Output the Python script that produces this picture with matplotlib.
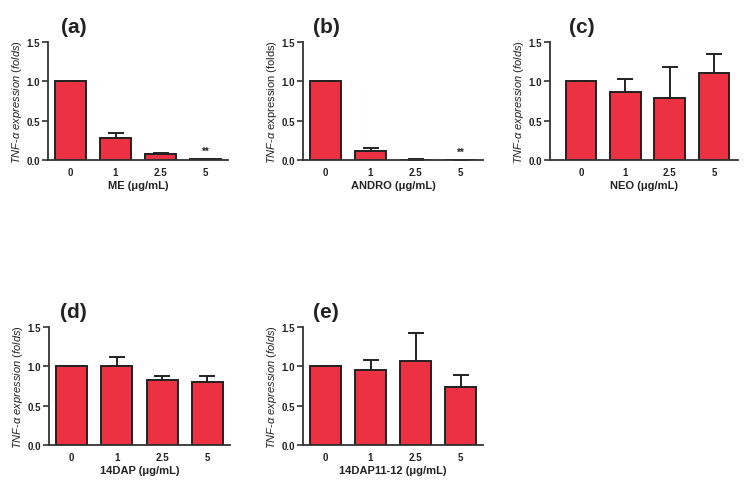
import matplotlib.pyplot as plt

plt.rcParams['font.family'] = ['Liberation Sans', 'DejaVu Sans']
plt.rcParams['mathtext.fontset'] = 'custom'
plt.rcParams['mathtext.rm'] = 'Liberation Sans'
plt.rcParams['mathtext.it'] = 'Liberation Sans:italic'
plt.rcParams['mathtext.bf'] = 'Liberation Sans:bold'

doses = ["0", "1", "2.5", "5"]

me_mean = [1.0, 0.28, 0.075, 0.01]
me_err = [0.0, 0.06, 0.02, 0.005]

andro_mean = [1.0, 0.12, 0.005, 0.004]
andro_err = [0.0, 0.035, 0.004, 0.002]

neo_mean = [1.0, 0.86, 0.79, 1.10]
neo_err = [0.0, 0.17, 0.39, 0.25]

dap_mean = [1.0, 1.0, 0.83, 0.80]
dap_err = [0.0, 0.12, 0.05, 0.08]

dap1112_mean = [1.0, 0.95, 1.07, 0.74]
dap1112_err = [0.0, 0.13, 0.35, 0.15]

bar_color = "#EC3242"

# (tag, x label, means, errors, stars, left, bottom, width, xlim-left, xlim-right, tag x, ylabel italic all)
panels = [
    ("(a)", "ME (μg/mL)", me_mean, me_err, [3], 48, 161, 180, -0.5, 3.5, 0.07, True),
    ("(b)", "ANDRO (μg/mL)", andro_mean, andro_err, [3], 303, 161, 180, -0.5, 3.5, 0.055, False),
    ("(c)", "NEO (μg/mL)", neo_mean, neo_err, [], 550, 161, 188, -0.7, 3.54, 0.1, True),
    ("(d)", "14DAP (μg/mL)", dap_mean, dap_err, [], 49, 446, 181, -0.5, 3.5, 0.06, True),
    ("(e)", "14DAP11-12 (μg/mL)", dap1112_mean, dap1112_err, [], 303, 446, 180, -0.5, 3.5, 0.055, True),
]

W, H = 755, 485
fig = plt.figure(figsize=(7.55, 4.85), dpi=100)

for tag, xlab, mean, err, stars, left, bottom, width, x0, x1, tx, all_italic in panels:
    ax = fig.add_axes([left / W, 1 - bottom / H, width / W, 118 / H])
    x = range(len(doses))
    ax.bar(x, mean, width=0.69, color=bar_color, edgecolor="#222222", linewidth=1.4, zorder=2)
    ax.errorbar(x, mean, yerr=[[0] * len(err), err], fmt="none", ecolor="#222222",
                elinewidth=1.4, capsize=6, capthick=1.4, zorder=1)
    for i in stars:
        ax.text(i, mean[i] + err[i] + 0.04, "**", ha="center", va="bottom",
                fontsize=7, fontweight="bold", color="#222222")

    ax.set_xlim(x0, x1)
    ax.set_ylim(0, 1.5)
    ax.set_yticks([0, 0.5, 1.0, 1.5])
    ax.set_yticklabels(["0.0", "0.5", "1.0", "1.5"])
    ax.set_xticks(list(x))
    ax.set_xticklabels(doses)
    for s in ["top", "right"]:
        ax.spines[s].set_visible(False)
    for s in ["left", "bottom"]:
        ax.spines[s].set_linewidth(1.3)
        ax.spines[s].set_color("#333333")
    ax.tick_params(axis="y", length=4, width=1.2, color="#333333", labelsize=7, pad=2)
    ax.tick_params(axis="x", length=0, labelsize=7, pad=5)
    for lbl in ax.get_xticklabels() + ax.get_yticklabels():
        lbl.set_fontweight("bold")
        lbl.set_color("#222222")

    ax.set_xlabel(xlab, fontsize=8, fontweight="bold", color="#222222", labelpad=2)
    if all_italic:
        ylab = r"$\mathit{TNF}$-$\alpha$ $\mathit{expression\ (folds)}$"
    else:
        ylab = r"$\mathit{TNF}$-$\alpha$ expression (folds)"
    ax.set_ylabel(ylab, fontsize=8, color="#222222", labelpad=1.5)

    ax.text(tx, 1.05, tag, transform=ax.transAxes, fontsize=15, fontweight="bold",
            ha="left", va="bottom", color="#222222")

fig.savefig("out.png", dpi=100)
